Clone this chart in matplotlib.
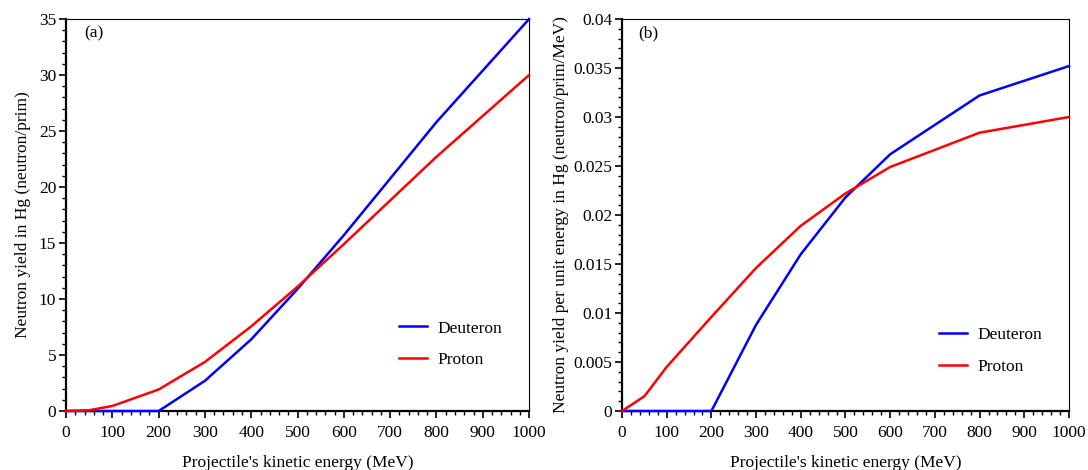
import matplotlib
matplotlib.use("Agg")
import matplotlib.pyplot as plt
from matplotlib.ticker import MultipleLocator, FuncFormatter

plt.rcParams['font.family'] = ['Liberation Serif', 'DejaVu Serif']
plt.rcParams['font.size'] = 12.5

# energies (MeV)
e_deut = [0, 100, 200, 300, 400, 500, 600, 800, 1000]
e_prot = [0, 50, 100, 200, 300, 400, 500, 600, 800, 1000]

# (a) total neutron yield (neutron/prim)
y_deut = [0, 0, 0, 2.7, 6.4, 10.9, 15.7, 25.8, 35.0]
y_prot = [0, 0.07, 0.45, 1.92, 4.38, 7.56, 11.1, 14.9, 22.7, 30.0]

# (b) yield per unit energy (neutron/prim/MeV)
r_deut = [0, 0, 0, 0.0088, 0.016, 0.0218, 0.0262, 0.0322, 0.0352]
r_prot = [0, 0.0015, 0.0045, 0.0096, 0.0146, 0.0189, 0.0222, 0.0249, 0.0284, 0.030]

fig = plt.figure(figsize=(10.88, 4.70), dpi=100)
ax1 = fig.add_axes([0.0607, 0.1255, 0.4256, 0.834])
ax2 = fig.add_axes([0.5717, 0.1255, 0.4108, 0.834])

kw = dict(lw=1.8, clip_on=False, zorder=5)
ax1.plot(e_deut, y_deut, color='#0000ff', label='Deuteron', **kw)
ax1.plot(e_prot, y_prot, color='#ff0000', label='Proton', **kw)
ax2.plot(e_deut, r_deut, color='#0000ff', label='Deuteron', **kw)
ax2.plot(e_prot, r_prot, color='#ff0000', label='Proton', **kw)

ax1.set_ylim(0, 35)
ax1.yaxis.set_major_locator(MultipleLocator(5))
ax1.yaxis.set_minor_locator(MultipleLocator(1))
ax2.set_ylim(0, 0.04)
ax2.yaxis.set_major_locator(MultipleLocator(0.005))
ax2.yaxis.set_minor_locator(MultipleLocator(0.001))
ax2.yaxis.set_major_formatter(FuncFormatter(lambda v, p: '%g' % round(v, 4)))

for ax in (ax1, ax2):
    ax.set_xlim(0, 1000)
    ax.xaxis.set_major_locator(MultipleLocator(100))
    ax.xaxis.set_minor_locator(MultipleLocator(20))
    ax.tick_params(which='both', direction='out', top=False, right=False)
    ax.tick_params(which='major', length=5, width=1.2)
    ax.tick_params(which='minor', length=3, width=1)
    ax.tick_params(axis='x', pad=5)
    ax.tick_params(axis='y', pad=2)
    ax.spines['left'].set_linewidth(1.6)
    ax.spines['bottom'].set_linewidth(1.6)
    ax.set_xlabel("Projectile's kinetic energy (MeV)", labelpad=10)

ax1.set_ylabel('Neutron yield in Hg (neutron/prim)', labelpad=6)
ax2.set_ylabel('Neutron yield per unit energy in Hg (neutron/prim/MeV)', labelpad=3)

ax1.text(0.04, 0.964, '(a)', transform=ax1.transAxes, va='center')
ax2.text(0.036, 0.964, '(b)', transform=ax2.transAxes, va='center')

ax1.legend(loc='center left', bbox_to_anchor=(0.719, 0.17), frameon=False,
           borderaxespad=0, borderpad=0, handlelength=1.6, handletextpad=0.6,
           labelspacing=0.9)
ax2.legend(loc='center left', bbox_to_anchor=(0.709, 0.153), frameon=False,
           borderaxespad=0, borderpad=0, handlelength=1.6, handletextpad=0.6,
           labelspacing=0.95)

fig.savefig('out.png', dpi=100)
